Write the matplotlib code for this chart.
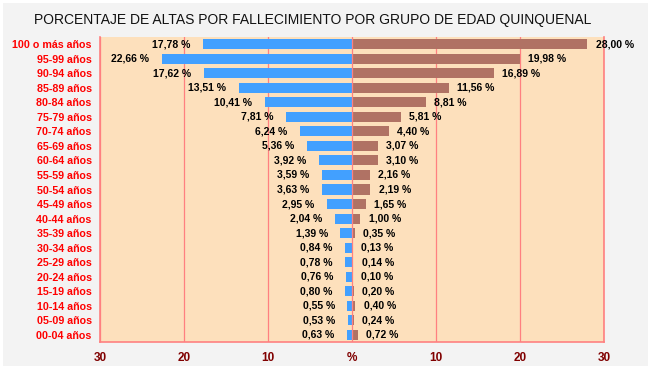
import matplotlib
matplotlib.use("Agg")
import matplotlib.pyplot as plt
import numpy as np

# datos: grupos de edad (de arriba a abajo) y porcentajes
grupos = ['100 o más años', '95-99 años', '90-94 años', '85-89 años', '80-84 años',
          '75-79 años', '70-74 años', '65-69 años', '60-64 años', '55-59 años',
          '50-54 años', '45-49 años', '40-44 años', '35-39 años', '30-34 años',
          '25-29 años', '20-24 años', '15-19 años', '10-14 años', '05-09 años',
          '00-04 años']
izquierda = [17.78, 22.66, 17.62, 13.51, 10.41, 7.81, 6.24, 5.36, 3.92, 3.59,
             3.63, 2.95, 2.04, 1.39, 0.84, 0.78, 0.76, 0.80, 0.55, 0.53, 0.63]
derecha = [28.00, 19.98, 16.89, 11.56, 8.81, 5.81, 4.40, 3.07, 3.10, 2.16,
           2.19, 1.65, 1.00, 0.35, 0.13, 0.14, 0.10, 0.20, 0.40, 0.24, 0.72]
ticks = [-30, -20, -10, 0, 10, 20, 30]
tick_labels = ['30', '20', '10', '%', '10', '20', '30']

plt.rcParams['font.family'] = ['Liberation Sans', 'DejaVu Sans']

fig = plt.figure(figsize=(6.51, 3.69), dpi=100, facecolor='#f3f3f3')
fig.patch.set_edgecolor('white')
fig.patch.set_linewidth(3)
ax = fig.add_axes([100/651, 27/369, 504/651, 305/369])
ax.set_facecolor('#fde0bc')

y = np.arange(len(grupos))
ax.barh(y, [-v for v in izquierda], height=0.69, color='#42a0ff', zorder=2)
ax.barh(y, derecha, height=0.69, color='#b07264', zorder=2)

def fmt(v):
    return f"{v:.2f}".replace('.', ',') + ' %'

for i in range(len(grupos)):
    ax.annotate(fmt(izquierda[i]), (-izquierda[i], y[i]), xytext=(-9, 0),
                textcoords='offset points', ha='right', va='center',
                fontsize=7.5, fontweight='bold', color='black', zorder=4)
    ax.annotate(fmt(derecha[i]), (derecha[i], y[i]), xytext=(6, 0),
                textcoords='offset points', ha='left', va='center',
                fontsize=7.5, fontweight='bold', color='black', zorder=4)

ax.set_xlim(-30, 30)
ax.set_ylim(len(grupos) - 0.5, -0.5)
ax.set_xticks(ticks)
ax.set_xticklabels(tick_labels, color='#800000', fontweight='bold', fontsize=8.5)
ax.set_yticks(y)
ax.set_yticklabels(grupos, color='#ff0000', fontweight='bold', fontsize=7.7)
ax.tick_params(length=0, pad=7)
ax.tick_params(axis='y', pad=6)

for t in ticks:
    ax.axvline(t, color='#ff8080', lw=0.9, zorder=3 if t == 0 else 1)
ax.spines['top'].set_visible(False)
for s in ['left', 'right', 'bottom']:
    ax.spines[s].set_color('#ff8080')
    ax.spines[s].set_linewidth(1.2)

fig.text(313/651, 1 - 20/369, 'PORCENTAJE DE ALTAS POR FALLECIMIENTO POR GRUPO DE EDAD QUINQUENAL',
         ha='center', va='center', fontsize=10, color='#111111')

fig.savefig('out.png', dpi=100, facecolor=fig.get_facecolor(), edgecolor='white')
